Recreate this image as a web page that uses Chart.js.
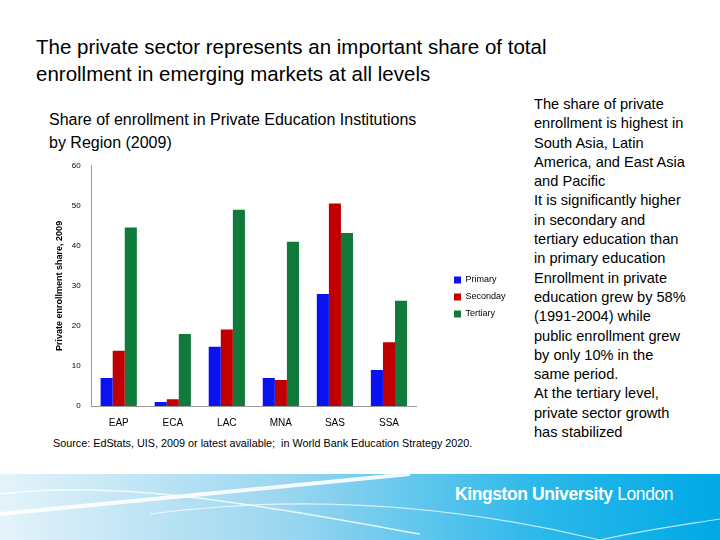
<!DOCTYPE html>
<html><head><meta charset="utf-8">
<script src="https://cdn.jsdelivr.net/npm/chart.js@4"></script>
<style>
body{margin:0;width:720px;height:540px;position:relative;background:#fff;font-family:"Liberation Sans",Arial,sans-serif;overflow:hidden}
.t{position:absolute;color:#000}
#title{left:36px;top:33px;font-size:20.5px;line-height:27px}
#sub{left:49px;top:108px;font-size:16px;line-height:23px}
#side{left:534px;top:95px;font-size:14.6px;line-height:19.3px;white-space:nowrap}
#src{left:53px;top:437px;font-size:10.8px;color:#000}
#band{position:absolute;left:0;top:474px;width:720px;height:66px;background:linear-gradient(90deg,#e4f3fa 0%,#9ad6f0 40%,#2bb8ea 75%,#00a9e6 100%)}
#logo{position:absolute;left:455px;top:10px;color:#fff;font-size:17.5px;font-weight:bold;letter-spacing:-0.4px}
#logo span{font-weight:normal}
#wrap{position:absolute;left:50px;top:158px;width:470px;height:274px}
</style></head><body>
<div class="t" id="title">The private sector represents an important share of total<br>enrollment in emerging markets at all levels</div>
<div class="t" id="sub">Share of enrollment in Private Education Institutions<br>by Region (2009)</div>
<div class="t" id="side">The share of private<br>enrollment is highest in<br>South Asia, Latin<br>America, and East Asia<br>and Pacific<br>It is significantly higher<br>in secondary and<br>tertiary education than<br>in primary education<br>Enrollment in private<br>education grew by 58%<br>(1991-2004) while<br>public enrollment grew<br>by only 10% in the<br>same period.<br>At the tertiary level,<br>private sector growth<br>has stabilized</div>
<div class="t" id="src">Source: EdStats, UIS, 2009 or latest available;&nbsp; in World Bank Education Strategy 2020.</div>
<div id="band"><svg width="720" height="66" style="position:absolute;left:0;top:0">
<path d="M0,40 C150,25 300,10 410,0" stroke="#fff" stroke-width="4" fill="none" opacity="0.9"/>
<path d="M0,20 C120,5 250,30 420,60" stroke="#fff" stroke-width="1.5" fill="none" opacity="0.8"/>
<path d="M150,40 C300,20 450,30 600,66" stroke="#fff" stroke-width="1.2" fill="none" opacity="0.7"/>
<path d="M600,66 C650,55 690,50 720,45" stroke="#fff" stroke-width="1.2" fill="none" opacity="0.7"/>
</svg><div id="logo">Kingston University <span>London</span></div></div>
<div id="wrap"><canvas id="c"></canvas></div>
<script>
const regions = ['EAP','ECA','LAC','MNA','SAS','SSA'];
const primary = [7, 1, 14.8, 7, 28, 9];
const secondary = [13.8, 1.7, 19.1, 6.5, 50.6, 15.9];
const tertiary = [44.6, 18, 49, 41, 43.2, 26.3];
const yTicks = [0,10,20,30,40,50,60];

// widen the legend box so the plot ends well before it, then push items right
const legendGap = {
  id: 'legendGap',
  afterInit(chart) {
    const fit = chart.legend.fit;
    chart.legend.fit = function () { fit.call(this); this.width = 104; };
  },
  beforeDraw(chart) {
    const lg = chart.legend;
    if (lg._shifted) return;
    lg.left += 30;
    (lg.legendHitBoxes || []).forEach(b => { b.left += 30; });
    lg._shifted = true;
  }
};

new Chart(document.getElementById('c'), {
  type: 'bar',
  data: {
    labels: regions,
    datasets: [
      {label:'Primary', data: primary, backgroundColor:'#0a12f0'},
      {label:'Seconday', data: secondary, backgroundColor:'#c00000'},
      {label:'Tertiary', data: tertiary, backgroundColor:'#0f7a3a'}
    ]
  },
  options: {
    responsive: true, maintainAspectRatio: false, animation: false,
    layout: {padding: {top: 4, right: 0}},
    datasets: {bar: {categoryPercentage: 0.67, barPercentage: 1}},
    plugins: {
      legend: {position:'right', align:'center', labels:{boxWidth:7, boxHeight:7, padding:8, font:{size:9, family:'Liberation Sans'}, color:'#000'}},
      tooltip: {enabled:false}
    },
    scales: {
      x: {grid:{display:false}, border:{color:'#999'}, ticks:{color:'#000', font:{size:10}}},
      y: {min:0, max:60, afterBuildTicks: s => { s.ticks = yTicks.map(v => ({value:v})); },
          grid:{display:false, drawTicks:true}, border:{color:'#999'},
          ticks:{color:'#000', font:{size:8}},
          title:{display:true, text:'Private enrollment share, 2009', color:'#000', font:{size:9, weight:'bold'}}}
    }
  },
  plugins: [legendGap]
});
</script>
</body></html>
